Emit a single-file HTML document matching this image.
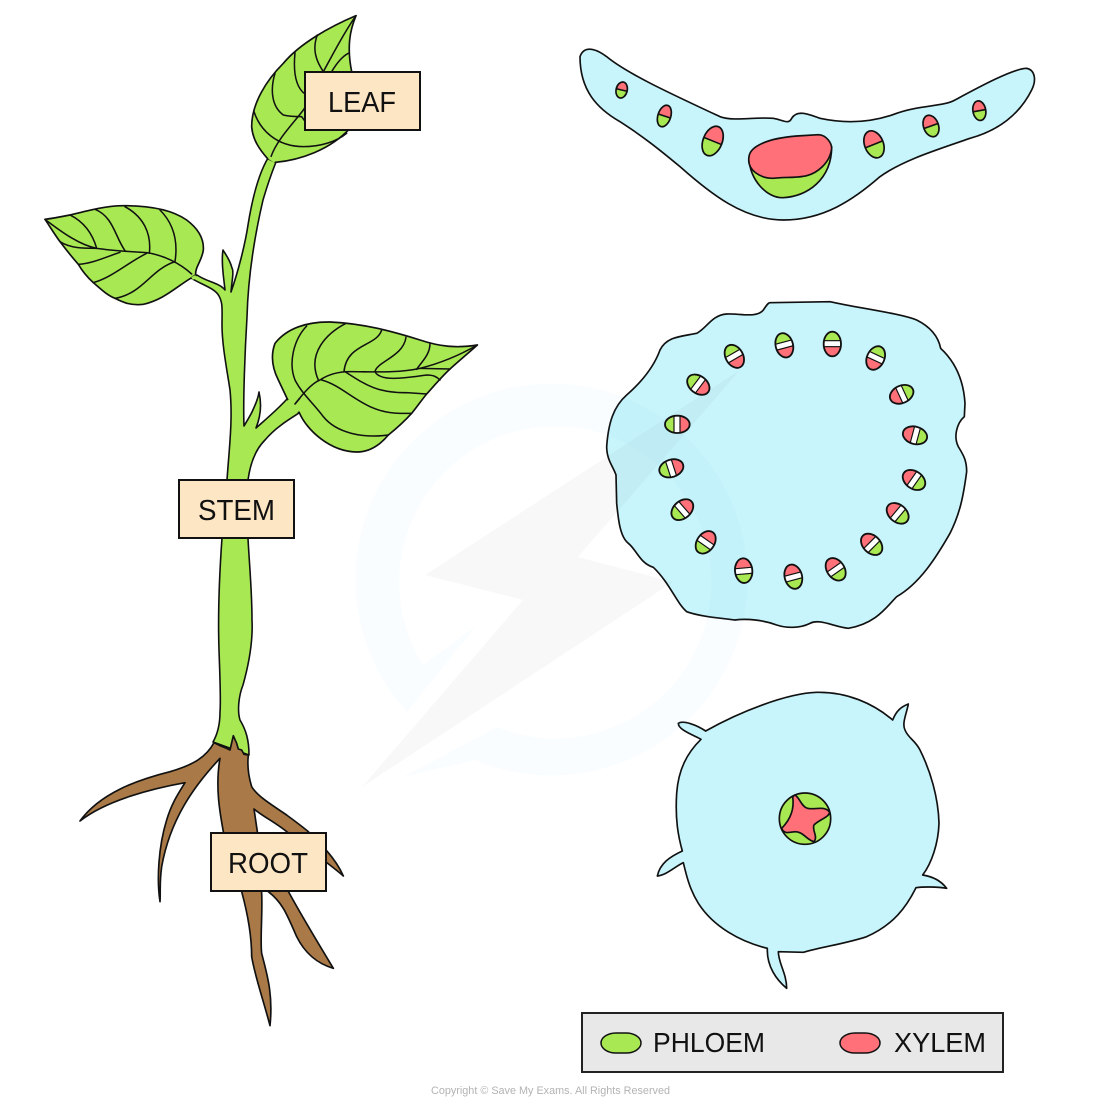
<!DOCTYPE html>
<html><head><meta charset="utf-8"><style>
html,body{margin:0;padding:0;background:#fff}
svg{display:block}
text{font-family:"Liberation Sans",sans-serif;fill:#111}
.z{stroke:#111;stroke-width:5;stroke-linejoin:round;stroke-linecap:round}
.v{fill:none;stroke:#111;stroke-width:4.6;stroke-linecap:round}
.g{fill:#a8e853}.r{fill:#ff7079}.bl{fill:#c8f4fb}.br{fill:#a97a47}
.lb{fill:#fde6c3;stroke:#111;stroke-width:2}
</style></head><body>
<svg width="1100" height="1103" viewBox="0 0 1100 1103" xmlns="http://www.w3.org/2000/svg">
<defs>
<clipPath id="c"><ellipse cx="0" cy="0" rx="26" ry="37"/></clipPath>
<g id="b">
<ellipse rx="26" ry="37" fill="#ff7079"/>
<g clip-path="url(#c)"><rect x="-30" y="-40" width="60" height="40" fill="#a8e853"/>
<rect x="-30" y="-10" width="60" height="18" fill="#fff" stroke="#111" stroke-width="3.5"/></g>
<ellipse rx="26" ry="37" fill="none" stroke="#111" stroke-width="5.5"/>
</g>
<g id="h">
<ellipse rx="26" ry="37" fill="#a8e853"/>
<g clip-path="url(#c)"><rect x="-30" y="-40" width="60" height="40" fill="#ff7079"/></g>
<path d="M-26 0H26" stroke="#111" stroke-width="1.6" vector-effect="non-scaling-stroke"/>
<ellipse rx="26" ry="37" fill="none" stroke="#111" stroke-width="1.7" vector-effect="non-scaling-stroke"/>
</g>
</defs>

<!-- leaf section -->
<g transform="translate(570 30) scale(.33333)">
<path class="bl z" d="M30 80C40 50 70 50 110 80C170 130 300 190 450 260C490 275 560 260 610 265C640 270 655 285 665 265C680 240 710 250 750 265C820 280 900 280 980 250C1050 225 1120 230 1155 210C1220 175 1330 115 1370 115C1395 120 1400 150 1385 180C1350 250 1290 300 1200 325C1100 360 1000 390 930 440C850 510 760 570 640 570C520 570 420 490 330 410C270 360 220 320 150 275C80 235 30 180 30 80Z"/>
</g>
<!-- stem section -->
<g transform="translate(600 290) scale(.33333)">
<path class="bl z" d="M510 38L690 35C780 55 900 70 950 90C990 110 1015 140 1022 175C1060 210 1090 260 1095 340L1093 380C1070 400 1060 440 1075 470C1090 495 1100 510 1100 545C1090 620 1080 670 1050 730C1010 800 960 880 890 920C860 950 830 1000 745 1015C700 1010 660 985 630 1000C600 1015 560 1015 530 1005C490 990 440 985 405 990C370 985 300 980 260 965C230 940 210 880 160 832C120 820 110 780 85 760C60 740 55 690 50 640L48 555C40 530 20 510 20 470C25 400 40 350 80 315C120 280 160 235 180 180C200 140 240 140 290 130C320 115 335 75 380 72C420 70 470 85 490 60C500 45 505 38 510 38Z"/>
</g>
<!-- root section -->
<g transform="translate(640 680) scale(.33333)">
<path class="bl z" d="M197 153C300 95 440 40 530 37C620 35 700 70 758 120C770 90 785 80 805 72C800 100 785 130 795 150C805 175 825 180 840 210C870 270 895 350 897 430C895 490 875 550 848 585C880 590 905 605 920 625C890 620 850 620 828 623C800 680 760 735 680 770C620 790 550 800 490 817L415 815C415 850 440 880 440 925C410 900 380 860 382 805C300 785 220 740 175 670C150 630 140 590 130 548C105 560 80 585 52 588C60 550 90 530 127 513C115 470 105 420 110 340C115 270 140 220 183 178C160 165 115 150 115 130C130 120 170 135 197 153Z"/>
</g>

<!-- watermark -->
<path d="M407 712A196 196 0 1 1 475 760L403 777L497 727A156 156 0 1 0 423 665L477 625Z" fill="rgb(100,190,255)" fill-opacity=".035"/>
<path d="M740 370L578 557L673 582L362 787L523 600L425 575Z" fill="#000" fill-opacity=".028"/>

<!-- leaf section bundles -->
<g transform="translate(570 30) scale(.33333)">
<use href="#h" transform="translate(155 180) rotate(13) scale(.64 .66)"/>
<use href="#h" transform="translate(283 258) rotate(18) scale(.74 .9)"/>
<use href="#h" transform="translate(428 333) rotate(22) scale(1.1 1.25)"/>
<use href="#h" transform="translate(912 343) rotate(-22) scale(1.08 1.14)"/>
<use href="#h" transform="translate(1083 288) rotate(-20) scale(.86 .9)"/>
<use href="#h" transform="translate(1228 242) rotate(-10) scale(.74 .8)"/>
<path class="g z" d="M537 385C540 450 590 505 640 503C710 500 785 450 785 350Z"/>
<path class="r z" d="M537 380C540 350 590 325 680 318L745 314C770 315 785 340 785 355C780 400 740 430 710 437C680 445 640 440 610 445C570 445 530 420 537 380Z"/>
</g>
<!-- stem section bundles -->
<g transform="translate(600 290) scale(.33333)">
<use href="#b" transform="translate(697 162) rotate(0)"/>
<use href="#b" transform="translate(827 204) rotate(25)"/>
<use href="#b" transform="translate(905 313) rotate(65)"/>
<use href="#b" transform="translate(945 436) rotate(105)"/>
<use href="#b" transform="translate(942 570) rotate(125)"/>
<use href="#b" transform="translate(893 670) rotate(130)"/>
<use href="#b" transform="translate(815 763) rotate(135)"/>
<use href="#b" transform="translate(707 838) rotate(145)"/>
<use href="#b" transform="translate(580 860) rotate(165)"/>
<use href="#b" transform="translate(431 842) rotate(175)"/>
<use href="#b" transform="translate(317 757) rotate(215)"/>
<use href="#b" transform="translate(247 659) rotate(229)"/>
<use href="#b" transform="translate(214 535) rotate(252)"/>
<use href="#b" transform="translate(232 403) rotate(270)"/>
<use href="#b" transform="translate(295 284) rotate(307)"/>
<use href="#b" transform="translate(403 199) rotate(330)"/>
<use href="#b" transform="translate(553 166) rotate(345)"/>
</g>
<!-- root centre -->
<g transform="translate(640 680) scale(.33333)">
<circle class="g z" cx="495" cy="416" r="77"/>
<path class="r z" d="M465 345C478 352 484 378 500 384C520 392 550 375 568 395C572 410 535 420 522 435C515 450 535 470 522 485C500 480 490 455 465 455C445 458 432 462 425 445C445 425 465 395 458 350Z"/>
</g>

<!-- stem -->
<path class="g" stroke="#111" stroke-width="1.6" stroke-linejoin="round" d="M268 158C258 175 252 200 248 225C245 245 238 272 231 292C232 280 234 272 232 268C230 260 226 255 223 250C221 262 224 280 225 290C220 283 207 282 197 275L191 278C200 284 215 288 219 296C223 303 222 310 222 325C222 345 227 370 230 390C233 420 229 450 227 480L222 538C219 580 218 620 219 650C220 680 221 700 220 712C220 725 217 735 213 742L249 755C249 740 246 730 240 720C237 710 239 695 243 685C250 660 253 640 252 620C252 590 249 560 248 538L248 480C250 465 255 450 265 440C275 428 288 420 299 413L287 399C277 410 265 420 256 428C260 418 262 405 259 392C258 400 255 405 252 412C250 416 247 421 244 426C243 400 245 350 247 317C248 280 253 243 263 200C268 183 272 172 276 162Z"/>

<!-- leaves -->
<g transform="translate(30 0) scale(.33333)">
<path class="g z" d="M978 47C900 80 810 130 760 190C710 240 665 310 665 380C668 420 690 450 712 475L737 487C810 480 900 450 960 385L965 215C950 140 960 90 978 47Z"/>
<path class="v" d="M978 47C940 100 905 170 880 215C860 260 840 300 820 330C790 370 740 420 723 470"/>
<path class="v" d="M862 105C845 150 860 185 880 215M795 158C790 210 795 260 825 282M735 220C720 270 725 320 760 345C780 350 800 350 815 350L828 368M672 335C690 390 740 440 820 440C870 440 920 425 950 400M905 215C920 190 935 170 955 160"/>

<path class="g z" d="M45 658C70 655 95 650 120 645C180 630 230 617 280 617C340 617 420 625 470 660C510 690 522 720 520 750C515 785 495 800 497 825L482 835C440 860 400 900 340 913C300 918 275 905 255 895C230 885 210 865 190 848C170 830 155 810 145 793C125 770 105 745 90 725C75 705 60 680 45 658Z"/>
<path class="v" d="M45 658C100 700 150 735 200 745C250 752 300 755 350 758C400 765 450 790 485 822"/>
<path class="v" d="M120 645C170 670 190 710 200 745M195 628C250 650 255 710 285 752M285 620C340 650 365 700 358 760M390 630C430 670 445 720 435 785M90 725C120 745 160 745 200 745M145 793C190 790 230 770 270 757M190 848C250 830 290 790 350 760M255 895C340 880 360 810 435 785"/>

<path class="g z" d="M1342 1035C1280 1045 1230 1040 1170 1020C1090 995 1000 970 900 966C830 965 770 985 735 1030C720 1070 730 1110 745 1140L772 1197L808 1238C830 1290 900 1355 980 1356C1020 1356 1050 1335 1075 1305C1100 1285 1125 1262 1145 1240C1160 1222 1175 1200 1190 1182C1210 1160 1235 1130 1260 1107C1290 1080 1320 1055 1342 1035Z"/>
<path class="v" d="M795 1212C820 1180 845 1150 870 1140C900 1120 930 1115 960 1115C1030 1115 1100 1120 1170 1105C1230 1090 1290 1065 1342 1035"/>
<path class="v" d="M830 978C790 1020 775 1090 795 1140C815 1180 850 1210 880 1250C920 1300 1000 1315 1075 1305M948 970C890 1000 830 1060 865 1140M1055 990C1040 1040 950 1030 942 1115M1128 1012C1120 1070 1040 1085 1035 1115C1050 1145 1120 1135 1190 1125C1210 1125 1220 1130 1230 1140M1200 1030C1200 1065 1175 1085 1160 1108M875 1140C950 1160 1000 1240 1110 1240L1145 1240M945 1115C1000 1150 1040 1180 1130 1178L1190 1182M1170 1105L1260 1107"/>
</g>
<!-- leaf/petiole joins -->
<path d="M269 157.500L275 161.500" stroke="#a8e853" stroke-width="3"/>
<path d="M196 276.500L192 278.500" stroke="#a8e853" stroke-width="3"/>
<path d="M288 400L298 412" stroke="#a8e853" stroke-width="3.500"/>
<path d="M295 404L300 398" fill="none" stroke="#111" stroke-width="1.500"/>

<!-- roots -->
<g transform="translate(60 680) scale(.33333)">
<path class="br z" d="M462 188L480 197L500 205L510 210L520 167L530 190L535 207L545 210L552 223L565 225C562 250 563 280 575 320C590 345 620 365 680 405C700 420 725 438 745 455L800 512C820 535 840 565 850 588C830 570 810 555 770 525L680 455C650 430 610 410 582 387L592 455L605 640C608 700 600 780 605 820C620 880 640 940 630 1037C610 960 585 890 575 830C575 760 560 690 545 635L490 455C480 400 465 320 480 235C400 320 330 420 305 560C298 610 302 640 300 665C290 600 295 500 320 420C335 370 355 340 375 308C280 325 140 360 60 423C120 340 230 300 330 275C400 255 440 230 462 188Z"/>
<path class="br z" d="M625 635C665 665 680 700 710 770C735 820 770 850 820 865C775 790 720 700 680 625Z"/>
</g>

<!-- labels -->
<rect class="lb" x="305" y="72" width="115" height="58"/>
<text x="328" y="112" font-size="29" textLength="68" lengthAdjust="spacingAndGlyphs">LEAF</text>
<rect class="lb" x="179" y="480" width="115" height="58"/>
<text x="198" y="520" font-size="29" textLength="77" lengthAdjust="spacingAndGlyphs">STEM</text>
<rect class="lb" x="211" y="833" width="115" height="58"/>
<text x="228" y="873" font-size="29" textLength="80" lengthAdjust="spacingAndGlyphs">ROOT</text>

<!-- legend -->
<rect x="582" y="1013" width="421" height="59" fill="#e8e8e8" stroke="#222" stroke-width="2"/>
<rect x="601" y="1033" width="40" height="20" rx="15" ry="10" class="g" stroke="#111" stroke-width="1.500"/>
<text x="653" y="1052" font-size="28" textLength="112" lengthAdjust="spacingAndGlyphs">PHLOEM</text>
<rect x="840" y="1033" width="40" height="20" rx="15" ry="10" class="r" stroke="#111" stroke-width="1.500"/>
<text x="894" y="1052" font-size="28" textLength="92" lengthAdjust="spacingAndGlyphs">XYLEM</text>

<text x="431" y="1094" font-size="11" textLength="239" lengthAdjust="spacingAndGlyphs" style="fill:#b3b3b3">Copyright © Save My Exams. All Rights Reserved</text>
</svg>
</body></html>
